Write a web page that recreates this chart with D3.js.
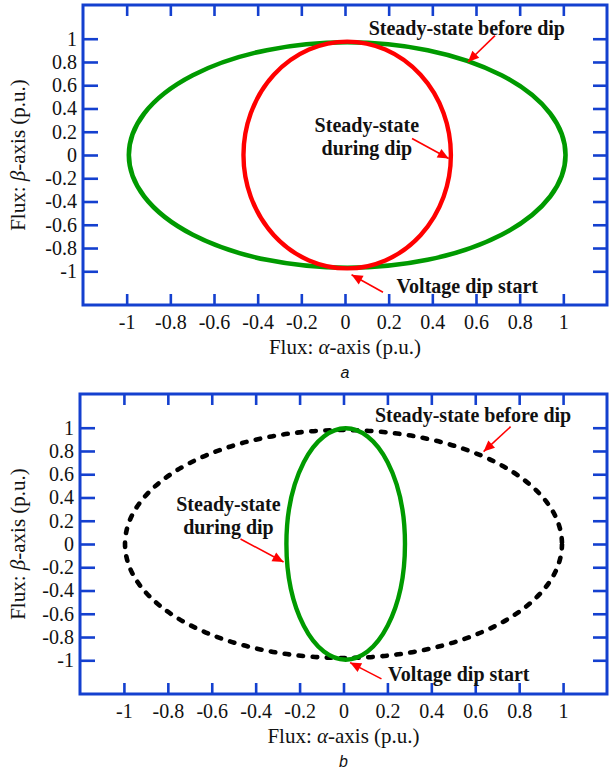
<!DOCTYPE html>
<html>
<head>
<meta charset="utf-8">
<script src="https://cdn.jsdelivr.net/npm/d3@7"></script>
<style>
  body { margin: 0; background: #fff; }
  svg { display: block; }
</style>
</head>
<body>
<svg id="chart" width="610" height="772"></svg>
<script>
// tick values shared by both panels
var X_TICKS = [-1, -0.8, -0.6, -0.4, -0.2, 0, 0.2, 0.4, 0.6, 0.8, 1];
var Y_TICKS = [1, 0.8, 0.6, 0.4, 0.2, 0, -0.2, -0.4, -0.6, -0.8, -1];
var X_DOMAIN = [-1.2, 1.2];
var Y_DOMAIN = [-1.29, 1.29];

// flux loci as ellipses: centre and semi-axes (p.u.)
var SERIES = ['Steady-state before dip', 'Steady-state during dip'];
var A_CX = [0.01, 0.01];
var A_CY = [0, 0];
var A_RX = [1.0, 0.475];
var A_RY = [0.97, 0.975];

var B_CX = [0.0, 0.01];
var B_CY = [0, 0];
var B_RX = [0.995, 0.27];
var B_RY = [0.98, 0.995];

var BLUE = '#1440cf';
var SERIF = '"Liberation Serif", "Times New Roman", Times, serif';
var svg = d3.select('#chart');

svg.append('defs').append('marker')
  .attr('id', 'arrow')
  .attr('viewBox', '0 0 10 10')
  .attr('refX', 10).attr('refY', 5)
  .attr('markerWidth', 12).attr('markerHeight', 11)
  .attr('markerUnits', 'userSpaceOnUse')
  .attr('orient', 'auto')
  .append('path')
  .attr('d', 'M0,0.5 L10,5 L0,9.5 Z')
  .attr('fill', '#ff0000');

var drawPanel = function(p) {
  var g = svg.append('g').attr('transform', 'translate(' + p.left + ',' + p.top + ')');
  var x = d3.scaleLinear().domain(X_DOMAIN).range([0, p.width]);
  var y = d3.scaleLinear().domain(Y_DOMAIN).range([p.height, 0]);
  var fmt = function(d) { return String(d); };

  var styleAxis = function(sel) {
    sel.attr('font-family', SERIF).attr('font-size', 20);
    sel.select('.domain').remove();
    sel.selectAll('.tick line').attr('stroke', BLUE).attr('stroke-width', 2.6);
    sel.selectAll('.tick text').attr('fill', '#111');
  };

  g.append('g').attr('transform', 'translate(0,' + p.height + ')')
    .call(d3.axisBottom(x).tickValues(X_TICKS).tickSize(-11).tickPadding(10).tickFormat(fmt))
    .call(styleAxis);
  g.append('g')
    .call(d3.axisTop(x).tickValues(X_TICKS).tickSize(-11).tickFormat(''))
    .call(styleAxis);
  g.append('g')
    .call(d3.axisLeft(y).tickValues(Y_TICKS).tickSize(-15).tickPadding(6).tickFormat(fmt))
    .call(styleAxis);
  g.append('g').attr('transform', 'translate(' + p.width + ',0)')
    .call(d3.axisRight(y).tickValues(Y_TICKS).tickSize(-14).tickFormat(''))
    .call(styleAxis);

  g.append('rect')
    .attr('width', p.width).attr('height', p.height)
    .attr('fill', 'none').attr('stroke', BLUE).attr('stroke-width', 3);

  // ellipses
  g.selectAll('ellipse.locus').data(SERIES)
    .enter().append('ellipse')
    .classed('locus', true)
    .attr('cx', function(d, i) { return x(p.cx[i]); })
    .attr('cy', function(d, i) { return y(p.cy[i]); })
    .attr('rx', function(d, i) { return x(p.rx[i]) - x(0); })
    .attr('ry', function(d, i) { return y(0) - y(p.ry[i]); })
    .attr('fill', 'none')
    .attr('stroke', function(d, i) { return p.colors[i]; })
    .attr('stroke-width', function(d, i) { return p.widths[i]; })
    .attr('stroke-linecap', function(d, i) { return p.dashes[i] ? 'round' : null; })
    .attr('stroke-dasharray', function(d, i) { return p.dashes[i]; });

  // annotations
  p.notes.forEach(function(n) {
    g.append('line')
      .attr('x1', x(n.from[0])).attr('y1', y(n.from[1]))
      .attr('x2', x(n.to[0])).attr('y2', y(n.to[1]))
      .attr('stroke', '#ff0000').attr('stroke-width', 1.6)
      .attr('marker-end', 'url(#arrow)');
    n.lines.forEach(function(t, k) {
      g.append('text')
        .attr('x', x(n.at[0]))
        .attr('y', y(n.at[1]) + k * 23)
        .attr('dy', '0.35em')
        .attr('text-anchor', 'middle')
        .attr('font-family', SERIF)
        .attr('font-weight', 'bold')
        .attr('font-size', 20)
        .attr('fill', '#111')
        .text(t);
    });
  });

  // axis titles
  var xt = g.append('text')
    .attr('x', x(0)).attr('y', p.height + 49)
    .attr('text-anchor', 'middle')
    .attr('font-family', SERIF)
    .attr('font-size', 21)
    .attr('fill', '#111');
  xt.append('tspan').text('Flux: ');
  xt.append('tspan').attr('font-style', 'italic').text('\u03b1');
  xt.append('tspan').text('-axis (p.u.)');

  var yt = g.append('text')
    .attr('transform', 'translate(' + (-p.left + 25) + ',' + y(0) + ') rotate(-90)')
    .attr('text-anchor', 'middle')
    .attr('font-family', SERIF)
    .attr('font-size', 21)
    .attr('fill', '#111');
  yt.append('tspan').text('Flux: ');
  yt.append('tspan').attr('font-style', 'italic').text('\u03b2');
  yt.append('tspan').text('-axis (p.u.)');

  g.append('text')
    .attr('x', x(0)).attr('y', p.height + 73)
    .attr('text-anchor', 'middle')
    .attr('font-family', '"Liberation Sans", Arial, sans-serif')
    .attr('font-style', 'italic')
    .attr('font-size', 16)
    .attr('fill', '#111')
    .text(p.caption);
};

drawPanel({
  left: 83, top: 5, width: 524, height: 300, caption: 'a',
  cx: A_CX, cy: A_CY, rx: A_RX, ry: A_RY,
  colors: ['#009a00', '#ff0000'], widths: [4.6, 4.4], dashes: [null, null],
  notes: [
    {lines: ['Steady-state before dip'], at: [0.558, 1.095], from: [0.687, 1.026], to: [0.563, 0.80]},
    {lines: ['Steady-state', 'during dip'], at: [0.10, 0.255], from: [0.307, 0.142], to: [0.475, -0.03]},
    {lines: ['Voltage dip start'], at: [0.56, -1.13], from: [0.174, -1.18], to: [0.03, -1.03]}
  ]
});

drawPanel({
  left: 80, top: 394, width: 527, height: 300, caption: 'b',
  cx: B_CX, cy: B_CY, rx: B_RX, ry: B_RY,
  colors: ['#000000', '#009a00'], widths: [4.6, 4.4], dashes: ['4.5,9.5', null],
  notes: [
    {lines: ['Steady-state before dip'], at: [0.59, 1.11], from: [0.761, 1.009], to: [0.638, 0.795]},
    {lines: ['Steady-state', 'during dip'], at: [-0.524, 0.345], from: [-0.469, 0.043], to: [-0.273, -0.155]},
    {lines: ['Voltage dip start'], at: [0.525, -1.12], from: [0.173, -1.16], to: [0.03, -1.02]}
  ]
});
</script>
</body>
</html>
